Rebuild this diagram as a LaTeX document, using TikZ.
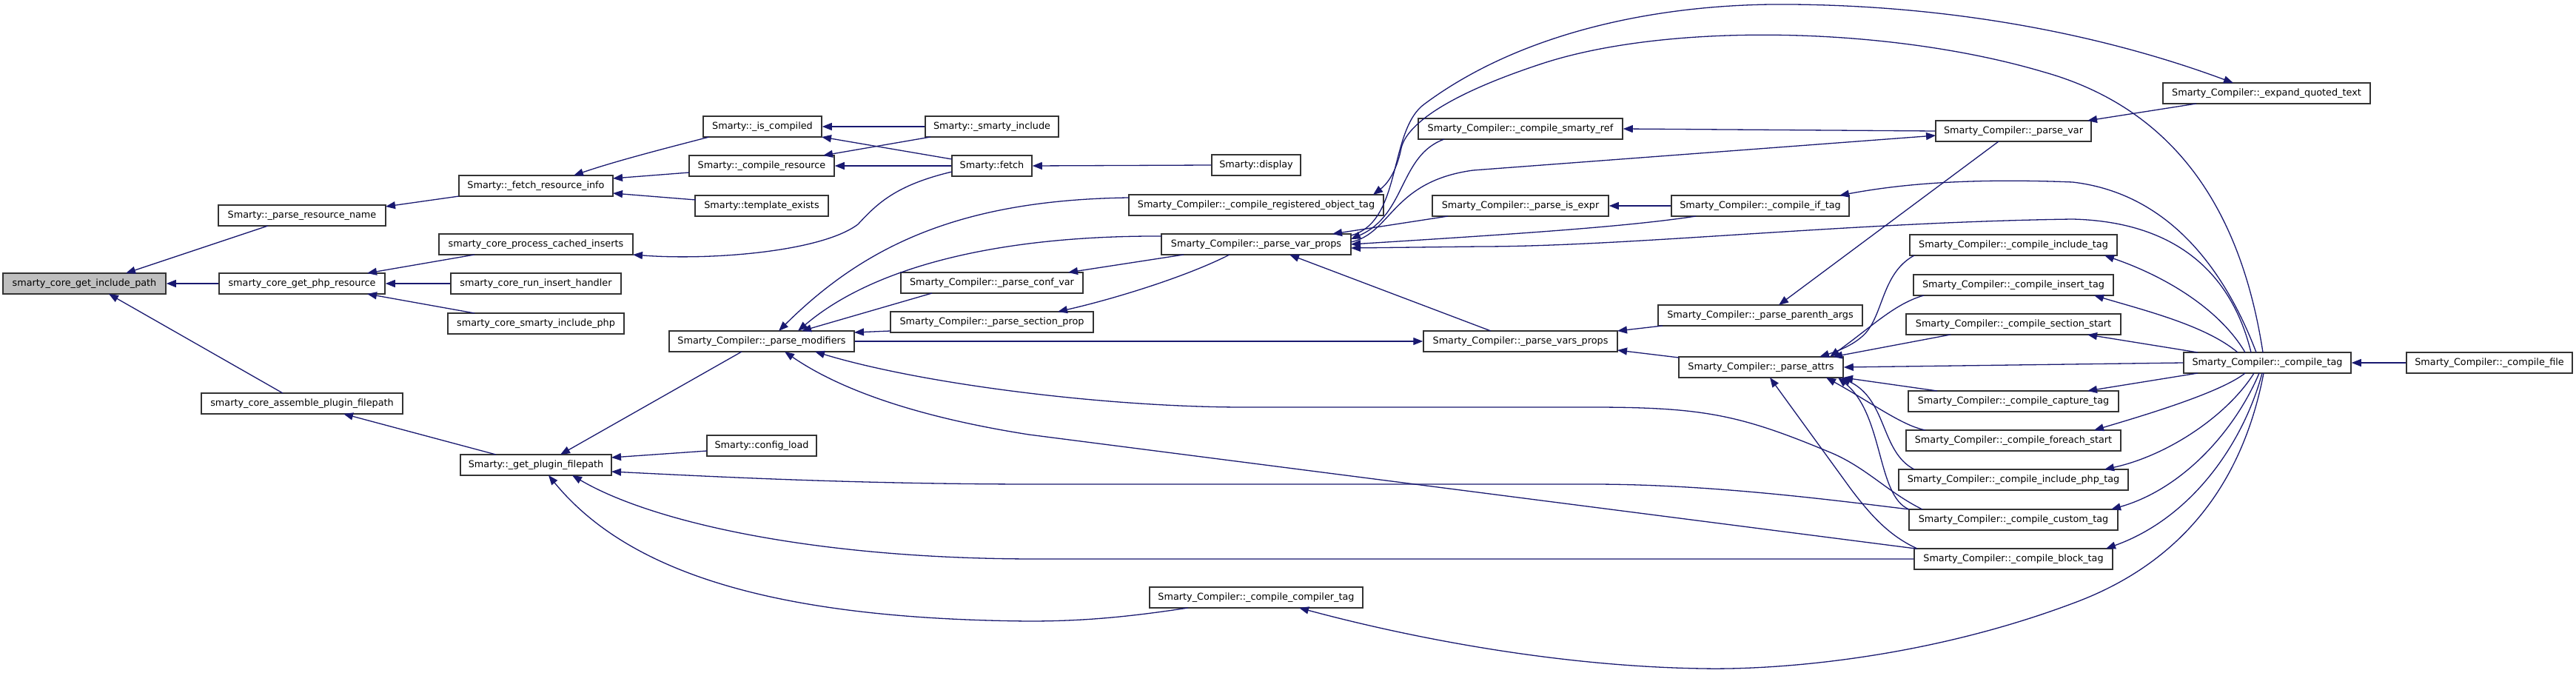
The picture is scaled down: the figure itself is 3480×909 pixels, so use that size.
\documentclass[tikz,border=0pt]{standalone}
\usepackage{fontspec}
\setmainfont{DejaVu Sans}
\usetikzlibrary{arrows.meta,calc}
\definecolor{edgec}{HTML}{191970}
\definecolor{boxc}{HTML}{333333}
\tikzset{
 fn/.style={draw=boxc, line width=1.5pt, fill=white, minimum height=28pt, inner xsep=3pt, inner ysep=0pt, font=\fontsize{12.8}{15}\selectfont},
 hl/.style={fn, fill=black!25},
 edge/.style={draw=edgec, line width=1.3pt, -{Triangle[length=13pt,width=10pt]}},
}
\begin{document}
\begin{tikzpicture}[x=1pt,y=-1pt]
\fill[white] (0,0) rectangle (3480,909);
\useasboundingbox (0,0) rectangle (3480,909);
% nodes
\node[hl, minimum width=220pt] (main) at (114,383) {smarty\_core\_get\_include\_path};
\node[fn, minimum width=226pt] (prn) at (408,291) {Smarty::\_parse\_resource\_name};
\node[fn, minimum width=224pt] (gpr) at (408,383) {smarty\_core\_get\_php\_resource};
\node[fn, minimum width=272pt] (capf) at (408,545) {smarty\_core\_assemble\_plugin\_filepath};
\node[fn, minimum width=208pt] (fri) at (724,251) {Smarty::\_fetch\_resource\_info};
\node[fn, minimum width=262pt] (pci) at (724,330) {smarty\_core\_process\_cached\_inserts};
\node[fn, minimum width=230pt] (rih) at (724,383) {smarty\_core\_run\_insert\_handler};
\node[fn, minimum width=238pt] (sip) at (724,437) {smarty\_core\_smarty\_include\_php};
\node[fn, minimum width=204pt] (gpf) at (724,628) {Smarty::\_get\_plugin\_filepath};
\node[fn, minimum width=160pt] (isc) at (1030,171) {Smarty::\_is\_compiled};
\node[fn, minimum width=196pt] (cres) at (1029,224) {Smarty::\_compile\_resource};
\node[fn, minimum width=180pt] (tex) at (1029,278) {Smarty::template\_exists};
\node[fn, minimum width=250pt] (pmod) at (1029,461) {Smarty\_Compiler::\_parse\_modifiers};
\node[fn, minimum width=148pt] (cfl) at (1029,602) {Smarty::config\_load};
\node[fn, minimum width=180pt] (sinc) at (1340,171) {Smarty::\_smarty\_include};
\node[fn, minimum width=108pt] (fetch) at (1340,224) {Smarty::fetch};
\node[fn, minimum width=246pt] (pcv) at (1340,382) {Smarty\_Compiler::\_parse\_conf\_var};
\node[fn, minimum width=274pt] (psp) at (1340,435) {Smarty\_Compiler::\_parse\_section\_prop};
\node[fn, minimum width=120pt] (disp) at (1697,223) {Smarty::display};
\node[fn, minimum width=344pt] (rot) at (1697,277) {Smarty\_Compiler::\_compile\_registered\_object\_tag};
\node[fn, minimum width=256pt] (pvp) at (1697,330) {Smarty\_Compiler::\_parse\_var\_props};
\node[fn, minimum width=288pt] (cct) at (1697,807) {Smarty\_Compiler::\_compile\_compiler\_tag};
\node[fn, minimum width=276pt] (csr) at (2054,174) {Smarty\_Compiler::\_compile\_smarty\_ref};
\node[fn, minimum width=238pt] (pie) at (2054,278) {Smarty\_Compiler::\_parse\_is\_expr};
\node[fn, minimum width=262pt] (pvsp) at (2054,461) {Smarty\_Compiler::\_parse\_vars\_props};
\node[fn, minimum width=240pt] (cif) at (2378,278) {Smarty\_Compiler::\_compile\_if\_tag};
\node[fn, minimum width=276pt] (ppa) at (2378,426) {Smarty\_Compiler::\_parse\_parenth\_args};
\node[fn, minimum width=222pt] (pat) at (2379,496) {Smarty\_Compiler::\_parse\_attrs};
\node[fn, minimum width=210pt] (pv) at (2720,177) {Smarty\_Compiler::\_parse\_var};
\node[fn, minimum width=280pt] (cinc) at (2720,331) {Smarty\_Compiler::\_compile\_include\_tag};
\node[fn, minimum width=270pt] (cins) at (2720,385) {Smarty\_Compiler::\_compile\_insert\_tag};
\node[fn, minimum width=290pt] (css) at (2720,438) {Smarty\_Compiler::\_compile\_section\_start};
\node[fn, minimum width=284pt] (ccap) at (2720,542) {Smarty\_Compiler::\_compile\_capture\_tag};
\node[fn, minimum width=290pt] (cfe) at (2720,595) {Smarty\_Compiler::\_compile\_foreach\_start};
\node[fn, minimum width=310pt] (cip) at (2720,648) {Smarty\_Compiler::\_compile\_include\_php\_tag};
\node[fn, minimum width=282pt] (ccu) at (2720,702) {Smarty\_Compiler::\_compile\_custom\_tag};
\node[fn, minimum width=268pt] (cbl) at (2720,755) {Smarty\_Compiler::\_compile\_block\_tag};
\node[fn, minimum width=280pt] (eqt) at (3062,126) {Smarty\_Compiler::\_expand\_quoted\_text};
\node[fn, minimum width=226pt] (ctag) at (3063,490) {Smarty\_Compiler::\_compile\_tag};
\node[fn, minimum width=224pt] (cfile) at (3363,490) {Smarty\_Compiler::\_compile\_file};
% edges
\draw[edge] ($(prn)+(-46,14)$) -- ($(main)+(56,-14)$);
\draw[edge] (gpr.west) -- (main.east);
\draw[edge] ($(capf)+(-26,-14)$) -- ($(main)+(33,14)$);
\draw[edge] ($(fri)+(-104,14)$) -- ($(prn)+(113,-12)$);
\draw[edge] ($(pci)+(-83,14)$) -- ($(gpr)+(88,-14)$);
\draw[edge] (rih.west) -- (gpr.east);
\draw[edge] ($(sip)+(-83,-14)$) -- ($(gpr)+(88,14)$);
\draw[edge] ($(gpf)+(-54,-14)$) -- ($(capf)+(56,14)$);
\draw[edge] ($(isc)+(-72,14)$) .. controls (900,200) and (830,218) .. ($(fri)+(51,-14)$);
\draw[edge] ($(cres)+(-98,9)$) -- ($(fri)+(104,-10)$);
\draw[edge] ($(tex)+(-89,-8)$) -- ($(fri)+(104,10)$);
\draw[edge] (sinc.west) -- (isc.east);
\draw[edge] ($(fetch)+(-54,-9)$) -- ($(isc)+(80,14)$);
\draw[edge] ($(sinc)+(-83,14)$) -- ($(cres)+(83,-14)$);
\draw[edge] (fetch.west) -- (cres.east);
\draw[edge] ($(fetch)+(-54,8)$) .. controls (1210,250) and (1185,275) .. (1159,303) .. controls (1110,340) and (960,352) .. ($(pci)+(131,14)$);
\draw[edge] (disp.west) -- (fetch.east);
\draw[edge] ($(pmod)+(-27,14)$) -- ($(gpf)+(33,-14)$);
\draw[edge] ($(cfl)+(-74,7)$) -- ($(gpf)+(102,-10)$);
\draw[edge] ($(ccu)+(-141,-14)$) .. controls (2450,672) and (2300,654) .. (2150,654) -- (1400,654) .. controls (1150,654) and (950,643) .. ($(gpf)+(102,9)$);
\draw[edge] (cbl.west) -- (1400,755) .. controls (1100,755) and (880,705) .. ($(gpf)+(49,14)$);
\draw[edge] ($(cct)+(-92,14)$) .. controls (1520,834) and (1460,839) .. (1390,839) .. controls (1050,836) and (850,775) .. ($(gpf)+(17,14)$);
\draw[edge] ($(rot)+(-172,-10)$) .. controls (1300,270) and (1170,330) .. ($(pmod)+(23,-14)$);
\draw[edge] ($(pvp)+(-128,-11)$) .. controls (1350,318) and (1180,360) .. ($(pmod)+(49,-14)$);
\draw[edge] ($(pcv)+(-81,14)$) -- ($(pmod)+(54,-14)$);
\draw[edge] ($(psp)+(-137,12)$) -- ($(pmod)+(125,-12)$);
\draw[edge] (pmod.east) -- (pvsp.west);
\draw[edge] ($(ccu)+(-123,-14)$) .. controls (2550,665) and (2520,630) .. (2470,610) .. controls (2350,560) and (2300,550) .. (2150,550) -- (1680,550) .. controls (1500,550) and (1250,520) .. ($(pmod)+(72,14)$);
\draw[edge] ($(cbl)+(-132,-14)$) -- (1390,587) .. controls (1250,565) and (1140,530) .. ($(pmod)+(31,14)$);
\draw[edge] ($(pvp)+(-98,14)$) -- ($(pcv)+(103,-14)$);
\draw[edge] ($(pvp)+(-36,14)$) .. controls (1600,375) and (1500,405) .. ($(psp)+(89,-14)$);
\draw[edge] ($(csr)+(-103,14)$) .. controls (1890,210) and (1900,290) .. ($(pvp)+(128,-7)$);
\draw[edge] ($(pvp)+(128,-3)$) .. controls (1880,315) and (1880,245) .. (1990,230) -- ($(pv)+(-105,6)$);
\draw[edge] ($(pvp)+(128,-12)$) .. controls (1895,300) and (1875,175) .. (1925,140) .. controls (2060,40) and (2250,4) .. (2420,6) .. controls (2650,8) and (2850,50) .. ($(eqt)+(-45,-14)$);
\draw[edge] ($(pie)+(-98,14)$) -- ($(pvp)+(103,-14)$);
\draw[edge] ($(cif)+(-87,14)$) .. controls (2200,306) and (2050,316) .. ($(pvp)+(128,0)$);
\draw[edge] ($(ctag)+(-22,-14)$) .. controls (3020,390) and (2960,300) .. (2800,296) .. controls (2500,300) and (2200,333) .. (2000,333) -- ($(pvp)+(128,5)$);
\draw[edge] ($(pvsp)+(-40,-14)$) -- ($(pvp)+(45,14)$);
\draw[edge] ($(ctag)+(-6,-14)$) .. controls (3030,300) and (2950,150) .. (2760,97) .. controls (2550,35) and (2250,30) .. (2080,87) .. controls (1950,130) and (1900,170) .. (1893,200) .. controls (1886,235) and (1872,250) .. ($(rot)+(158,-14)$);
\draw[edge] ($(ctag)+(-5,14)$) .. controls (3030,650) and (2950,760) .. (2800,815) .. controls (2600,890) and (2400,905) .. (2300,903) .. controls (2100,900) and (1900,860) .. ($(cct)+(58,14)$);
\draw[edge] (pv.west) -- (csr.east);
\draw[edge] (cif.west) -- (pie.east);
\draw[edge] ($(pv)+(-20,14)$) -- ($(ppa)+(25,-14)$);
\draw[edge] ($(ppa)+(-132,14)$) -- ($(pvsp)+(131,-14)$);
\draw[edge] ($(pat)+(-111,-13)$) -- ($(pvsp)+(131,12)$);
\draw[edge] ($(eqt)+(-95,14)$) -- ($(pv)+(100,-14)$);
\draw[edge] ($(ctag)+(-15,-14)$) .. controls (3000,350) and (2920,260) .. (2800,246) .. controls (2650,240) and (2560,250) .. ($(cif)+(107,-14)$);
\draw[edge] ($(cinc)+(-134,14)$) .. controls (2540,370) and (2545,430) .. (2515,455) .. controls (2500,468) and (2480,475) .. ($(pat)+(79,-14)$);
\draw[edge] ($(cins)+(-121,14)$) .. controls (2560,410) and (2530,440) .. ($(pat)+(93,-14)$);
\draw[edge] ($(css)+(-85,14)$) -- ($(pat)+(97,-14)$);
\draw[edge] (ctag.west) -- (pat.east);
\draw[edge] ($(ccap)+(-103,-14)$) -- ($(pat)+(111,14)$);
\draw[edge] ($(cfe)+(-119,-14)$) .. controls (2570,575) and (2530,545) .. ($(pat)+(88,14)$);
\draw[edge] ($(cip)+(-134,-14)$) .. controls (2540,610) and (2550,540) .. ($(pat)+(108,14)$);
\draw[edge] ($(ccu)+(-141,-14)$) .. controls (2535,670) and (2545,560) .. ($(pat)+(104,14)$);
\draw[edge] ($(cbl)+(-130,-14)$) .. controls (2555,725) and (2530,700) .. (2500,660) -- ($(pat)+(12,14)$);
\draw[edge] ($(ctag)+(-30,-14)$) .. controls (3000,420) and (2930,375) .. ($(cinc)+(123,14)$);
\draw[edge] ($(ctag)+(-40,-14)$) .. controls (2980,440) and (2900,420) .. ($(cins)+(109,14)$);
\draw[edge] ($(ctag)+(-94,-14)$) -- ($(css)+(100,14)$);
\draw[edge] ($(ctag)+(-94,14)$) -- ($(ccap)+(100,-14)$);
\draw[edge] ($(ctag)+(-30,14)$) .. controls (3000,530) and (2900,560) .. ($(cfe)+(109,-14)$);
\draw[edge] ($(ctag)+(-18,14)$) .. controls (3010,560) and (2930,615) .. ($(cip)+(123,-14)$);
\draw[edge] ($(ctag)+(-11,14)$) .. controls (3020,580) and (2950,660) .. ($(ccu)+(132,-14)$);
\draw[edge] ($(ctag)+(-7,14)$) .. controls (3030,600) and (2960,700) .. ($(cbl)+(125,-14)$);
\draw[edge] (cfile.west) -- (ctag.east);
\end{tikzpicture}
\end{document}
